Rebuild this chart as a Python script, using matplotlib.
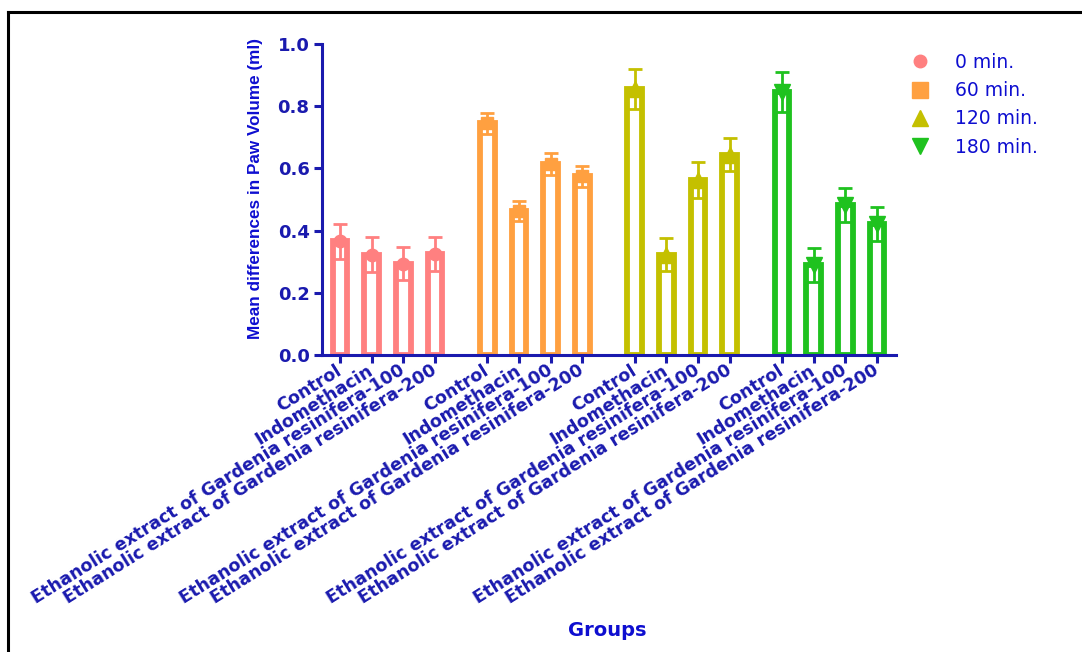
import matplotlib
matplotlib.use("Agg")
import matplotlib.pyplot as plt
from matplotlib.lines import Line2D
import numpy as np

# ---- data ----
timepoints = ['0 min.', '60 min.', '120 min.', '180 min.']
treatments = ['Control', 'Indomethacin',
              'Ethanolic extract of Gardenia resinifera-100',
              'Ethanolic extract of Gardenia resinifera-200']
means_0 = [0.365, 0.323, 0.294, 0.326]
err_0 = [0.057, 0.055, 0.054, 0.055]
means_60 = [0.745, 0.462, 0.614, 0.574]
err_60 = [0.033, 0.032, 0.036, 0.035]
means_120 = [0.855, 0.322, 0.563, 0.644]
err_120 = [0.064, 0.053, 0.059, 0.053]
means_180 = [0.845, 0.290, 0.483, 0.421]
err_180 = [0.064, 0.054, 0.055, 0.056]

all_means = [means_0, means_60, means_120, means_180]
all_errs = [err_0, err_60, err_120, err_180]
colors = ['#FF8080', '#FFA040', '#C4C000', '#1FC21F']
markers = ['o', 's', '^', 'v']

TXT = '#0E0ED0'
AX = '#1A1AAE'

fig = plt.figure(figsize=(10.82, 6.52), dpi=100)
ax = fig.add_axes([0.2976, 0.4555, 0.5305, 0.4770])

group_step = 4.65
bar_w = 0.46
tick_pos = []
tick_lab = []
for g, (m, e, c, mk) in enumerate(zip(all_means, all_errs, colors, markers)):
    x = g * group_step + np.arange(len(treatments))
    ax.bar(x, m, width=bar_w, color='white', edgecolor=c, linewidth=4.2, zorder=2)
    ax.errorbar(x, m, yerr=e, fmt='none', ecolor=c, elinewidth=2.0,
                capsize=5, capthick=2.0, zorder=3)
    ax.plot(x, m, linestyle='none', marker=mk, color=c, markersize=9 if mk in 'os' else 12,
            zorder=4)
    tick_pos.extend(x)
    tick_lab.extend(treatments)

ax.set_xlim(tick_pos[0] - 0.57, tick_pos[-1] + 0.6)
ax.set_ylim(0, 1.0)
ax.set_yticks([0.0, 0.2, 0.4, 0.6, 0.8, 1.0])
ax.set_yticklabels(['0.0', '0.2', '0.4', '0.6', '0.8', '1.0'],
                   fontfamily='DejaVu Sans', fontweight='bold', fontsize=13, color=TXT)
ax.set_xticks(tick_pos)
ax.set_xticklabels(tick_lab, rotation=32, ha='right', va='center', rotation_mode='anchor',
                   fontfamily='DejaVu Sans', fontweight='bold', fontsize=12.6, color=TXT)

for s in ['top', 'right']:
    ax.spines[s].set_visible(False)
for s in ['left', 'bottom']:
    ax.spines[s].set_color(AX)
    ax.spines[s].set_linewidth(2.2)
ax.tick_params(axis='both', colors=AX, width=2.2, length=6, direction='out')
ax.tick_params(axis='x', pad=4)
ax.tick_params(axis='y', pad=3)

ax.set_ylabel('Mean differences in Paw Volume (ml)',
              family=['Liberation Sans Narrow', 'Liberation Sans'],
              fontweight='bold', fontsize=12.3, color=TXT)
ax.yaxis.set_label_coords(-0.102, 0.535)

fig.text(0.5615, 0.033, 'Groups', ha='center', va='center',
         fontfamily='DejaVu Sans', fontweight='bold', fontsize=14, color=TXT)

# legend
handles = [Line2D([], [], linestyle='none', marker=mk, color=c,
                  markersize=(9 if mk == 'o' else 12))
           for mk, c in zip(markers, colors)]
leg = fig.legend(handles, timepoints, loc='upper left', bbox_to_anchor=(0.822, 0.945),
                 frameon=False, prop={'family': 'DejaVu Sans', 'size': 13.5},
                 labelspacing=0.5, handletextpad=1.1, handlelength=1.5)
for t in leg.get_texts():
    t.set_color(TXT)

# figure frame (left and top lines)
fig.add_artist(Line2D([0.0074, 0.0074], [0.0, 0.9816], transform=fig.transFigure,
                      color='black', linewidth=2.2))
fig.add_artist(Line2D([0.0074, 1.0], [0.9816, 0.9816], transform=fig.transFigure,
                      color='black', linewidth=2.2))

fig.savefig('out.png', dpi=100)
